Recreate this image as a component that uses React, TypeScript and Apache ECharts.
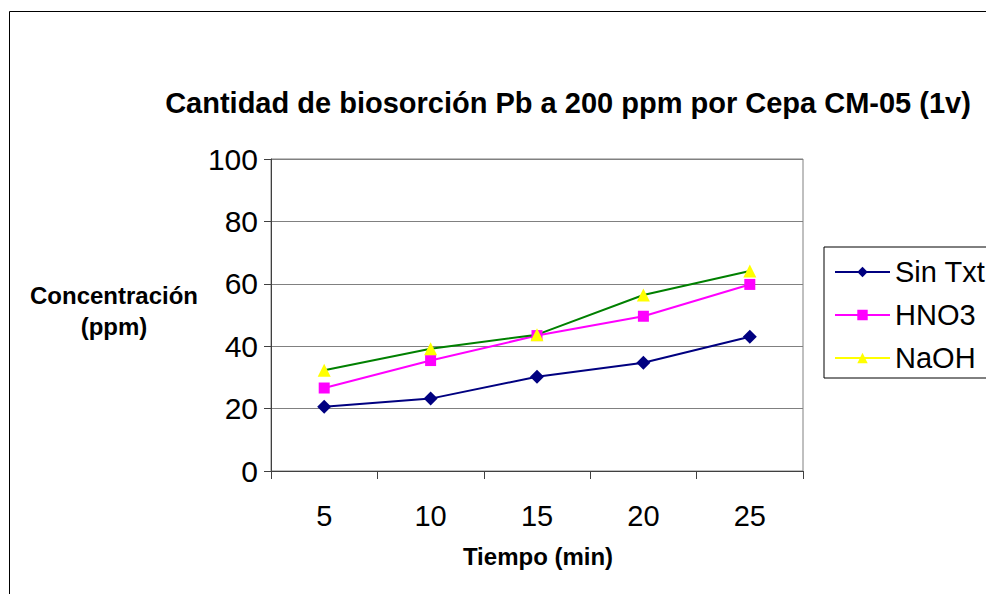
import React, { useEffect, useRef } from "react";
import * as echarts from "echarts";

const categories = ["5", "10", "15", "20", "25"];
const sinTxt = [20.6, 23.2, 30.2, 34.7, 43.0];
const hno3 = [26.6, 35.4, 43.4, 49.6, 59.8];
const naoh = [32.3, 39.2, 43.7, 56.4, 64.1];
const yTicks = { min: 0, max: 100, interval: 20 };
const titleText = "Cantidad de biosorción Pb a 200 ppm por Cepa CM-05 (1v)";
const xName = "Tiempo (min)";
const yName = "Concentración\n(ppm)";

const FONT = "'Liberation Sans', Arial, sans-serif";

export default function App() {
  const ref = useRef<HTMLDivElement>(null);
  useEffect(() => {
    if (!ref.current) return;
    const chart = echarts.init(ref.current, null, { renderer: "svg" });
    chart.setOption({
      animation: false,
      backgroundColor: "#ffffff",
      textStyle: { fontFamily: FONT },
      graphic: [
        {
          type: "rect",
          shape: { x: 9.5, y: 11.5, width: 1200, height: 800 },
          style: { fill: "none", stroke: "#000", lineWidth: 1 },
          silent: true,
          z: 0,
        },
        {
          type: "text",
          x: 568,
          y: 103,
          style: {
            text: titleText,
            fontFamily: FONT,
            fontSize: 29,
            fontWeight: "bold",
            fill: "#000",
            align: "center",
            verticalAlign: "middle",
          },
        },
        {
          type: "text",
          x: 114,
          y: 311,
          style: {
            text: yName,
            fontFamily: FONT,
            fontSize: 24,
            fontWeight: "bold",
            fill: "#000",
            align: "center",
            verticalAlign: "middle",
            lineHeight: 31,
          },
        },
        {
          type: "text",
          x: 538,
          y: 556,
          style: {
            text: xName,
            fontFamily: FONT,
            fontSize: 24,
            fontWeight: "bold",
            fill: "#000",
            align: "center",
            verticalAlign: "middle",
          },
        },
      ],
      legend: {
        orient: "vertical",
        left: 824,
        top: 247,
        padding: [10, 80, 5, 10],
        itemWidth: 55,
        itemHeight: 13,
        itemGap: 13,
        borderColor: "#000",
        borderWidth: 1,
        backgroundColor: "#fff",
        textStyle: { fontFamily: FONT, fontSize: 29, color: "#000", lineHeight: 30 },
        data: [
          { name: "Sin Txt" },
          { name: "HNO3" },
          { name: "NaOH", lineStyle: { color: "#FFFF00" } },
        ],
      },
      grid: {
        left: 271,
        top: 159,
        right: 183,
        bottom: 123,
        show: true,
        borderColor: "#808080",
        borderWidth: 1,
      },
      xAxis: {
        type: "category",
        data: categories,
        boundaryGap: true,
        axisLine: { lineStyle: { color: "#404040", width: 1 } },
        axisTick: { show: true, length: 8, alignWithLabel: false, lineStyle: { color: "#404040" } },
        axisLabel: { fontFamily: FONT, fontSize: 29, color: "#000", margin: 30 },
      },
      yAxis: {
        type: "value",
        min: yTicks.min,
        max: yTicks.max,
        interval: yTicks.interval,
        axisLine: { show: true, lineStyle: { color: "#404040", width: 1 } },
        axisTick: { show: true, length: 7, lineStyle: { color: "#404040" } },
        axisLabel: { fontFamily: FONT, fontSize: 30, color: "#000", margin: 13 },
        splitLine: { show: true, lineStyle: { color: "#808080", width: 1 } },
      },
      series: [
        {
          name: "Sin Txt",
          type: "line",
          data: sinTxt,
          symbol: "diamond",
          symbolSize: 14,
          lineStyle: { color: "#000080", width: 2 },
          itemStyle: { color: "#000080" },
        },
        {
          name: "HNO3",
          type: "line",
          data: hno3,
          symbol: "rect",
          symbolSize: 11,
          lineStyle: { color: "#FF00FF", width: 2 },
          itemStyle: { color: "#FF00FF" },
        },
        {
          name: "NaOH",
          type: "line",
          data: naoh,
          symbol: "triangle",
          symbolSize: 13,
          lineStyle: { color: "#008000", width: 2 },
          itemStyle: { color: "#FFFF00" },
        },
      ],
    });
    return () => chart.dispose();
  }, []);
  return (
    <div
      ref={ref}
      style={{ position: "fixed", left: 0, top: 0, width: 986, height: 594 }}
    />
  );
}
